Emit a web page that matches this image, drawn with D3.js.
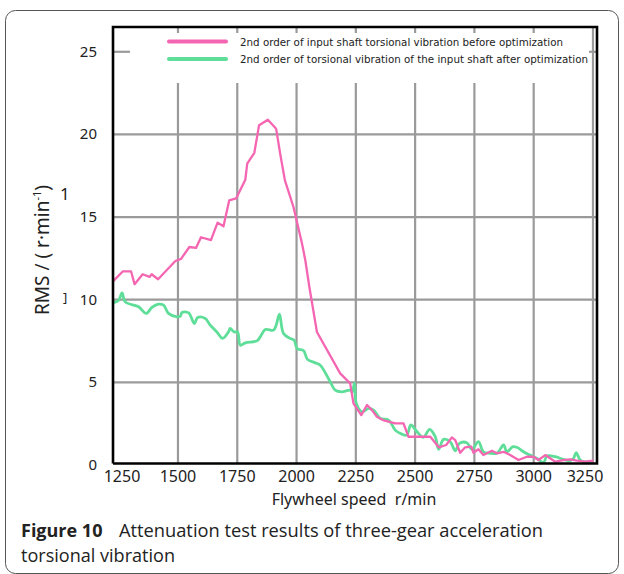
<!DOCTYPE html>
<html>
<head>
<meta charset="utf-8">
<script src="https://cdnjs.cloudflare.com/ajax/libs/d3/7.8.5/d3.min.js"></script>
<style>
body { margin: 0; background: #fff; }
</style>
</head>
<body>
<div id="chart"></div>
<script>
// values
var speedBefore = [1228,1268,1302,1317,1351,1380,1389,1416,1489,1513,1548,1576,1597,1639,1667,1692,1716,1745,1784,1792,1822,1842,1879,1914,1931,1951,1987,2023,2037,2054,2086,2184,2226,2240,2273,2297,2318,2339,2364,2416,2451,2472,2564,2600,2631,2655,2669,2690,2711,2737,2746,2767,2788,2824,2845,2873,2901,2936,2971,2999,3020,3049,3091,3126,3154,3182,3217,3252];
var rmsBefore = [11.14,11.72,11.72,10.94,11.54,11.38,11.54,11.24,12.34,12.47,13.19,13.13,13.78,13.61,14.66,14.44,16.01,16.13,17.26,18.23,18.89,20.56,20.89,20.34,18.83,17.22,15.61,13.40,12.39,10.77,8.05,5.54,4.94,3.73,3.02,3.63,3.32,2.92,2.72,2.52,2.52,1.71,1.71,1.07,1.21,1.67,1.51,0.74,1.07,1.11,0.74,0.95,0.60,0.86,0.71,0.80,0.60,0.30,0.50,0.50,0.30,0.60,0.20,0.30,0.34,0.26,0.20,0.26];

var speedAfter = [1229,1250,1264,1278,1334,1366,1390,1418,1439,1460,1496,1510,1517,1545,1569,1583,1615,1636,1664,1688,1713,1720,1737,1751,1763,1784,1833,1847,1868,1903,1914,1928,1945,1973,1990,2002,2030,2046,2079,2100,2142,2163,2191,2226,2235,2244,2252,2276,2304,2325,2353,2381,2395,2416,2444,2465,2482,2508,2535,2561,2585,2599,2620,2648,2669,2687,2718,2740,2767,2788,2817,2845,2873,2887,2912,2929,2964,3014,3041,3056,3091,3126,3154,3168,3179,3196,3210,3245];
var rmsAfter = [9.83,9.97,10.41,9.87,9.57,9.17,9.53,9.73,9.67,9.17,8.96,9.00,9.23,9.20,8.56,8.92,8.86,8.46,8.05,7.66,8.05,8.26,8.05,8.05,7.25,7.39,7.51,7.75,8.20,8.16,8.46,9.12,7.96,7.66,7.55,7.05,6.91,6.39,6.18,6.04,5.03,4.53,4.43,4.53,4.41,4.95,3.73,3.22,3.43,3.32,2.82,2.76,2.62,2.11,1.87,1.81,2.42,2.01,1.67,2.16,1.71,0.95,1.55,1.41,0.86,1.31,1.35,0.95,1.41,0.80,0.71,0.71,1.21,0.80,1.11,1.07,0.74,0.40,0.14,0.54,0.50,0.34,0.26,0.40,0.74,0.30,0.20,0.20];

var xTicks = [1250,1500,1750,2000,2250,2500,2750,3000,3250];
var yTicks = [0,5,10,15,20,25];
var yGrid = [5,10,15,20];
var legendLabels = ["2nd order of input shaft torsional vibration before optimization",
                    "2nd order of torsional vibration of the input shaft after optimization"];
var seriesColors = ["#f566b2", "#5ede98"];
var xTitle = "Flywheel speed  r/min";
var captionBold = "Figure 10";
var captionRest = "Attenuation test results of three-gear acceleration";
var captionLine2 = "torsional vibration";

var width = 624, height = 574;
var plot = {left: 113, right: 597, top: 27, bottom: 463.5};

var svg = d3.select("#chart").append("svg")
    .attr("width", width)
    .attr("height", height);

// card outline
svg.append("rect")
    .attr("x", 5.5).attr("y", 10.5)
    .attr("width", 613).attr("height", 563)
    .attr("rx", 10)
    .style("fill", "none")
    .style("stroke", "#555")
    .style("stroke-width", 1);

var x = d3.scaleLinear().domain([1226, 3267]).range([plot.left, plot.right]);
var y = d3.scaleLinear().domain([0, 26.5]).range([465, plot.top]);

var grid = svg.append("g").style("stroke", "#9a9a9a").style("stroke-width", 2.2);

// horizontal grid
grid.selectAll("line.h").data(yGrid).enter().append("line")
    .attr("class", "h")
    .attr("x1", plot.left).attr("x2", plot.right)
    .attr("y1", function(d){ return y(d); })
    .attr("y2", function(d){ return y(d); });

// vertical grid (starts below the legend, last one runs full height)
grid.selectAll("line.v").data(xTicks.slice(1)).enter().append("line")
    .attr("class", "v")
    .attr("x1", function(d){ return x(d); })
    .attr("x2", function(d){ return x(d); })
    .attr("y1", function(d){ return d === 3250 ? plot.top : 83; })
    .attr("y2", plot.bottom);

// little top ticks
grid.selectAll("line.t").data(xTicks.slice(1, 8)).enter().append("line")
    .attr("class", "t")
    .attr("x1", function(d){ return x(d); })
    .attr("x2", function(d){ return x(d); })
    .attr("y1", plot.top)
    .attr("y2", plot.top + 6);

// 25 tick on both sides
grid.append("line")
    .attr("x1", plot.left).attr("x2", plot.left + 17)
    .attr("y1", y(25)).attr("y2", y(25));
grid.append("line")
    .attr("x1", plot.right - 8).attr("x2", plot.right)
    .attr("y1", y(25)).attr("y2", y(25));

// series
var lineLinear = d3.line()
    .x(function(d){ return x(d[0]); })
    .y(function(d){ return y(d[1]); });
var lineSmooth = d3.line()
    .curve(d3.curveCatmullRom.alpha(0.5))
    .x(function(d){ return x(d[0]); })
    .y(function(d){ return y(d[1]); });

svg.append("path")
    .datum(d3.zip(speedAfter, rmsAfter))
    .attr("d", lineSmooth)
    .style("fill", "none")
    .style("stroke", seriesColors[1])
    .style("stroke-width", 2.8)
    .style("stroke-linejoin", "round");

svg.append("path")
    .datum(d3.zip(speedBefore, rmsBefore))
    .attr("d", lineLinear)
    .style("fill", "none")
    .style("stroke", seriesColors[0])
    .style("stroke-width", 2.3)
    .style("stroke-linejoin", "round");

// frame
var frame = svg.append("g").style("stroke", "#000").style("stroke-width", 2.6).style("fill", "none");
frame.append("path")
    .attr("d", "M" + plot.left + "," + plot.bottom + "V" + plot.top + "H" + plot.right + "V" + plot.bottom + "H" + plot.left);

// tick labels
svg.selectAll("text.ylab").data(yTicks).enter().append("text")
    .attr("class", "ylab")
    .attr("x", 97)
    .attr("y", function(d){ return y(d) + 5; })
    .attr("text-anchor", "end")
    .style("font-family", "'Noto Sans', sans-serif")
    .style("font-size", "15px")
    .style("fill", "#222")
    .text(function(d){ return d; });

svg.selectAll("text.xlab").data(xTicks).enter().append("text")
    .attr("class", "xlab")
    .attr("x", function(d){ return Math.max(122, Math.min(585, x(d))); })
    .attr("y", 482)
    .attr("text-anchor", "middle")
    .style("font-family", "'Noto Sans', sans-serif")
    .style("font-size", "16px")
    .style("fill", "#222")
    .text(function(d){ return d; });

// axis titles
svg.append("text")
    .attr("x", 354).attr("y", 505)
    .attr("text-anchor", "middle")
    .style("font-family", "'Noto Sans', sans-serif")
    .style("font-size", "16px")
    .style("fill", "#222")
    .style("white-space", "pre")
    .attr("xml:space", "preserve")
    .text(xTitle);

var yt = svg.append("text")
    .attr("transform", "translate(49,250) rotate(-90)")
    .attr("text-anchor", "middle")
    .style("font-family", "'Noto Sans', sans-serif")
    .style("font-size", "19px")
    .style("fill", "#222");
yt.append("tspan").text("RMS / ( r·min");
yt.append("tspan").attr("dy", -8).style("font-size", "11px").text("-1");
yt.append("tspan").attr("dy", 8).text(")");

// stray glyphs in the original scan
svg.append("text").attr("x", 60).attr("y", 200)
    .style("font-family", "'Noto Sans', sans-serif").style("font-size", "17px").style("fill", "#222")
    .text("1");
svg.append("text").attr("x", 63).attr("y", 302)
    .style("font-family", "'Noto Sans', sans-serif").style("font-size", "13px").style("fill", "#222")
    .text("]");

// legend
var legend = svg.append("g");
legendLabels.forEach(function(label, i){
    var ly = 41.5 + i * 17.5;
    legend.append("line")
        .attr("x1", 169).attr("x2", 226)
        .attr("y1", ly).attr("y2", ly)
        .style("stroke", seriesColors[i])
        .style("stroke-width", 4)
        .style("stroke-linecap", "round");
    legend.append("text")
        .attr("x", 240).attr("y", ly + 4)
        .attr("textLength", i === 0 ? 323 : 348)
        .attr("lengthAdjust", "spacingAndGlyphs")
        .style("font-family", "'DejaVu Sans', sans-serif")
        .style("font-size", "11px")
        .style("fill", "#222")
        .text(label);
});

// caption
var cap = svg.append("text")
    .attr("x", 21).attr("y", 537)
    .style("font-family", "'Open Sans', sans-serif")
    .style("font-size", "18px")
    .style("fill", "#222");
cap.append("tspan").style("font-weight", "bold").text(captionBold);
cap.append("tspan").attr("x", 119).attr("textLength", 424).attr("lengthAdjust", "spacingAndGlyphs").text(captionRest);

svg.append("text")
    .attr("x", 21).attr("y", 562)
    .attr("textLength", 154)
    .attr("lengthAdjust", "spacingAndGlyphs")
    .style("font-family", "'Open Sans', sans-serif")
    .style("font-size", "18px")
    .style("fill", "#222")
    .text(captionLine2);
</script>
</body>
</html>
